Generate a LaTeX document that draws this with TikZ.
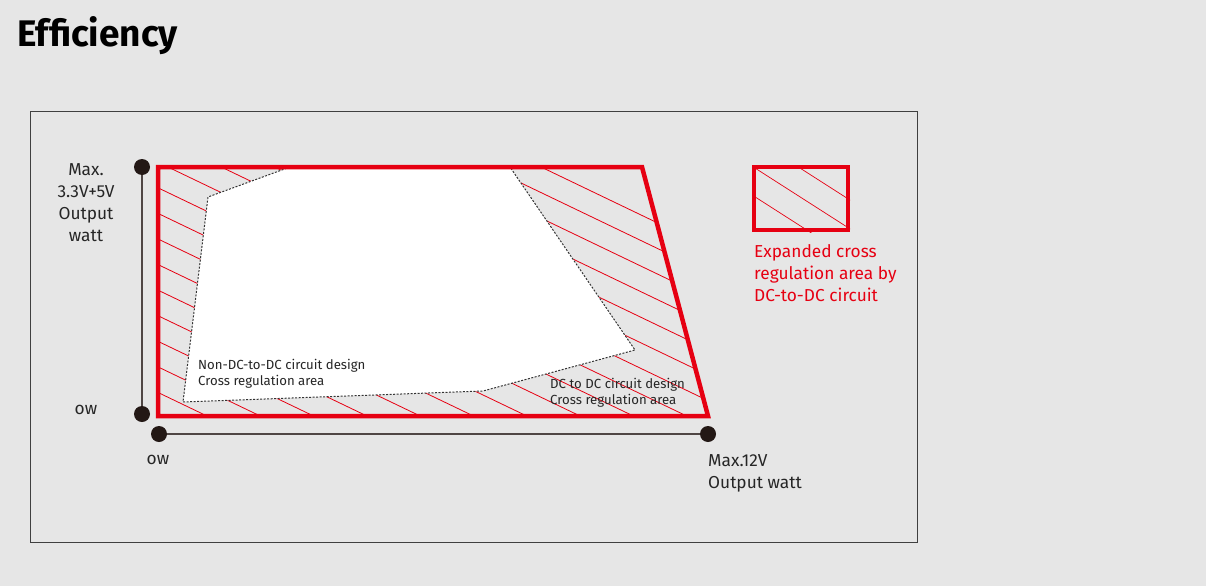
\documentclass[tikz,border=0pt]{standalone}
\usepackage{fontspec}
\setmainfont{Fira Sans}
\usepackage{tikz}
\definecolor{bgGray}{RGB}{230,230,230}
\definecolor{regRed}{RGB}{230,0,18}
\definecolor{dotBlack}{RGB}{35,24,21}

\begin{document}
\begin{tikzpicture}
[x=1pt,y=-1pt,
    dotDecorate/.style={shape=circle,inner sep=0pt,minimum size=16pt,fill=dotBlack},%
    axisDecorate/.style={draw=dotBlack!80,line width=1.2pt},%
    hatchDecorate/.style={regRed,line width=0.8pt},%
    borderDecorate/.style={regRed,line width=4.5pt,line join=miter},%
    labelDecorate/.style={font=\fontsize{17.3}{22}\selectfont,text=black!85,inner sep=0pt,align=center},%
    areaDecorate/.style={font=\fontsize{13.2}{16}\selectfont,text=black!85,inner sep=0pt,align=left,anchor=north west}]
    %% background and frame
    \fill[bgGray] (0,0) rectangle (1206,586);
    \useasboundingbox (0,0) rectangle (1206,586);
    \draw[black!75,line width=1pt] (30,111) rectangle (917,542);
    \node (title) at (17,36) [anchor=west,inner sep=0pt,font=\fontsize{37}{42}\selectfont\bfseries] {Efficiency};
    %% corners of the regions
    \foreach \nodename/\x/\y in {tl/158/167, tr/642/167, br/708/416, bl/158/416}
    {
        \coordinate (\nodename) at (\x,\y);
    }
    \foreach \nodename/\x/\y in {w1/290/167, w2/208/197, w3/183/402, w4/483/391, w5/635/350, w6/510/167}
    {
        \coordinate (\nodename) at (\x,\y);
    }
    %% hatching inside the expanded area
    \begin{scope}
        \clip (tl) -- (tr) -- (br) -- (bl) -- cycle;
        \foreach \k in {-2,...,16}
        {
            \draw[hatchDecorate] ({207+53.3*\k-600},{416-288}) -- ({207+53.3*\k+100},{416+48});
        }
    \end{scope}
    %% non DC-to-DC area
    \fill[white] (w1) -- (w2) -- (w3) -- (w4) -- (w5) -- (w6) -- cycle;
    \draw[black!80,dash pattern=on 2pt off 1.5pt,line width=1pt] (w1) -- (w2) -- (w3) -- (w4) -- (w5) -- (w6);
    \draw[borderDecorate] (tl) -- (tr) -- (br) -- (bl) -- cycle;
    %% area texts
    \node (nondc) at (198,359) [areaDecorate] {Non-DC-to-DC circuit design\\Cross regulation area};
    \node (dcdc) at (550,378) [areaDecorate] {DC to DC circuit design\\Cross regulation area};
    %% axes
    \foreach \nodename/\x/\y in {ymax/142/167, yzero/142/414, xzero/159/434, xmax/708/434}
    {
        \node (\nodename) at (\x,\y) [dotDecorate] {};
    }
    \draw[axisDecorate] (ymax) -- (yzero);
    \draw[axisDecorate] (xzero) -- (xmax);
    \node (ymaxlabel) at (86,203) [labelDecorate] {Max.\\3.3V+5V\\Output\\watt};
    \node (yzerolabel) at (86,410) [labelDecorate] {ow};
    \node (xzerolabel) at (158,460) [labelDecorate] {ow};
    \node (xmaxlabel) at (708,473) [labelDecorate,anchor=west,align=left] {Max.12V\\Output watt};
    %% legend
    \begin{scope}
        \clip (752,165) rectangle (850,232);
        \foreach \k in {-1,0,1}
        {
            \draw[hatchDecorate,line width=0.7pt] ({758+45*\k-50},{170-32}) -- ({758+45*\k+150},{170+96});
        }
    \end{scope}
    \draw[regRed,line width=4pt] (754,167) rectangle (848,230);
    \node (legend) at (754,273) [labelDecorate,anchor=west,align=left,text=regRed] {Expanded cross\\regulation area by\\DC-to-DC circuit};
\end{tikzpicture}
\end{document}
